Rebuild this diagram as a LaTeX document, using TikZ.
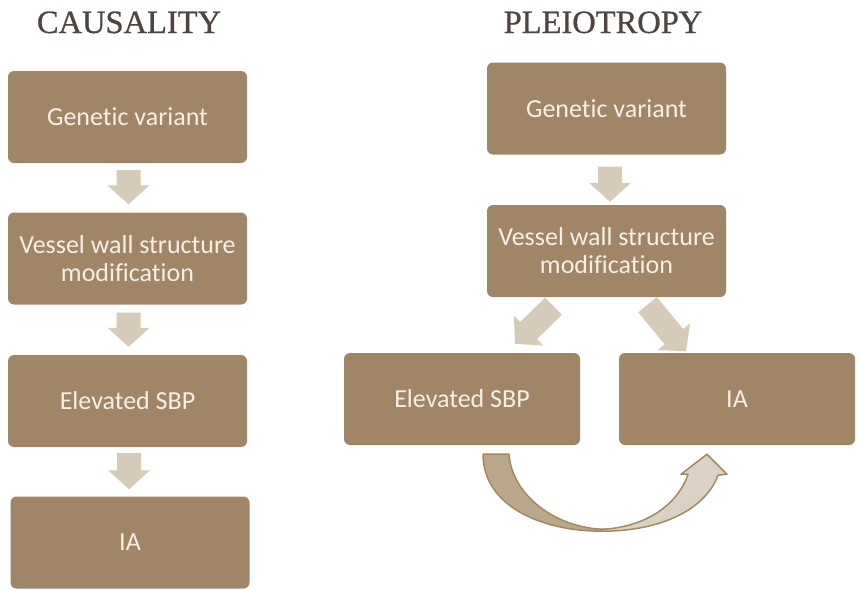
\documentclass[tikz,border=0pt]{standalone}
\usepackage{fontspec}
\setmainfont{Carlito}[Ligatures=NoCommon]
\newfontfamily\titlefont{Liberation Serif}[FakeBold=0.8]
\usetikzlibrary{calc}

\definecolor{boxbrown}{HTML}{A08666}
\definecolor{boxtext}{HTML}{F4F0E8}
\definecolor{arrowtan}{HTML}{D6CAB9}
\definecolor{curvedark}{HTML}{BBA78A}
\definecolor{curvelight}{HTML}{DCD2C4}
\definecolor{curveline}{HTML}{A38962}
\definecolor{titlegrey}{HTML}{4F4540}

\tikzset{
  stepbox/.style={rectangle, rounded corners=6pt, fill=boxbrown, text=boxtext,
    minimum width=239pt, minimum height=92pt, inner sep=0pt, align=center,
    font=\fontsize{26}{28}\selectfont},
  heading/.style={text=titlegrey, anchor=base, font=\titlefont\fontsize{32.5}{36}\selectfont},
  arrowfill/.style={fill=arrowtan},
  curvebody/.style={draw=curveline, line width=1.5pt, line join=round},
}

\newcommand{\fatarrow}[2]{%
  \coordinate (fa-s) at (#1);
  \coordinate (fa-e) at (#2);
  \fill[arrowfill] ($(fa-s)!12pt!90:(fa-e)$) -- ($(fa-e)!19pt!(fa-s)!12pt!90:(fa-e)$)
    -- ($(fa-e)!19pt!(fa-s)!21pt!90:(fa-e)$) -- (fa-e)
    -- ($(fa-e)!19pt!(fa-s)!21pt!-90:(fa-e)$) -- ($(fa-e)!19pt!(fa-s)!12pt!-90:(fa-e)$)
    -- ($(fa-s)!12pt!-90:(fa-e)$) -- cycle;}

\begin{document}
\begin{tikzpicture}[x=1pt,y=-1pt]
  \useasboundingbox (0,0) rectangle (858,589);

  \node[heading] (tcaus) at (129,33) {CAUSALITY};
  \node[heading] (tpleio) at (603,33) {PLEIOTROPY};

  \node[stepbox] (c1) at (127.5,117) {Genetic variant};
  \node[stepbox] (c2) at (127.5,258.5) {Vessel wall structure\\modification};
  \node[stepbox] (c3) at (127.5,401) {Elevated SBP};
  \node[stepbox] (c4) at (130,542.5) {IA};

  \node[stepbox] (pg) at (606.5,108.5) {Genetic variant};
  \node[stepbox] (pv) at (606.5,251) {Vessel wall structure\\modification};
  \node[stepbox, minimum width=236pt] (pe) at (462,399) {Elevated SBP};
  \node[stepbox, minimum width=236pt] (pi) at (737,399) {IA};

  \fatarrow{$(c1.south)+(1,7)$}{$(c2.north)+(1,-8)$}
  \fatarrow{$(c2.south)+(1,8)$}{$(c3.north)+(1,-8)$}
  \fatarrow{$(c3.south)+(1.5,6)$}{$(c4.north)+(-1,-7)$}
  \fatarrow{$(pg.south)+(3.5,12)$}{$(pv.north)+(3.5,-3)$}
  \fatarrow{$(pv.south)+(-53,9)$}{$(pe.north)+(53,-9)$}
  \fatarrow{$(pv.south)+(41,7.5)$}{$(pi.north)+(-51,-1.5)$}

  % curved arrow under the two boxes
  \coordinate (ct-o) at ($(pe.south)+(21,9)$);
  \coordinate (ct-i) at ($(pe.south)+(47,9)$);
  \coordinate (cb-o) at ($(pe.south)+(140,86)$);
  \coordinate (cb-i) at ($(pe.south)+(140,84)$);
  \coordinate (ch-t) at ($(pi.south)+(-30,9)$);
  \coordinate (ch-l) at ($(pi.south)+(-56,29)$);
  \coordinate (ch-li) at ($(pi.south)+(-49,29)$);
  \coordinate (ch-ri) at ($(pi.south)+(-19,30)$);
  \coordinate (ch-r) at ($(pi.south)+(-10,29)$);
  \filldraw[curvebody, fill=curvelight] (cb-i) .. controls +(48,-2) and +(-8,26) .. (ch-li)
    -- (ch-l) -- (ch-t) -- (ch-r) -- (ch-ri) .. controls +(-13,35) and +(58,0) .. (cb-o) -- cycle;
  \filldraw[curvebody, fill=curvedark] (ct-o) .. controls +(0,51) and +(-62,0) .. (cb-o)
    -- (cb-i) .. controls +(-47,-2) and +(3,41) .. (ct-i) -- cycle;
\end{tikzpicture}
\end{document}
